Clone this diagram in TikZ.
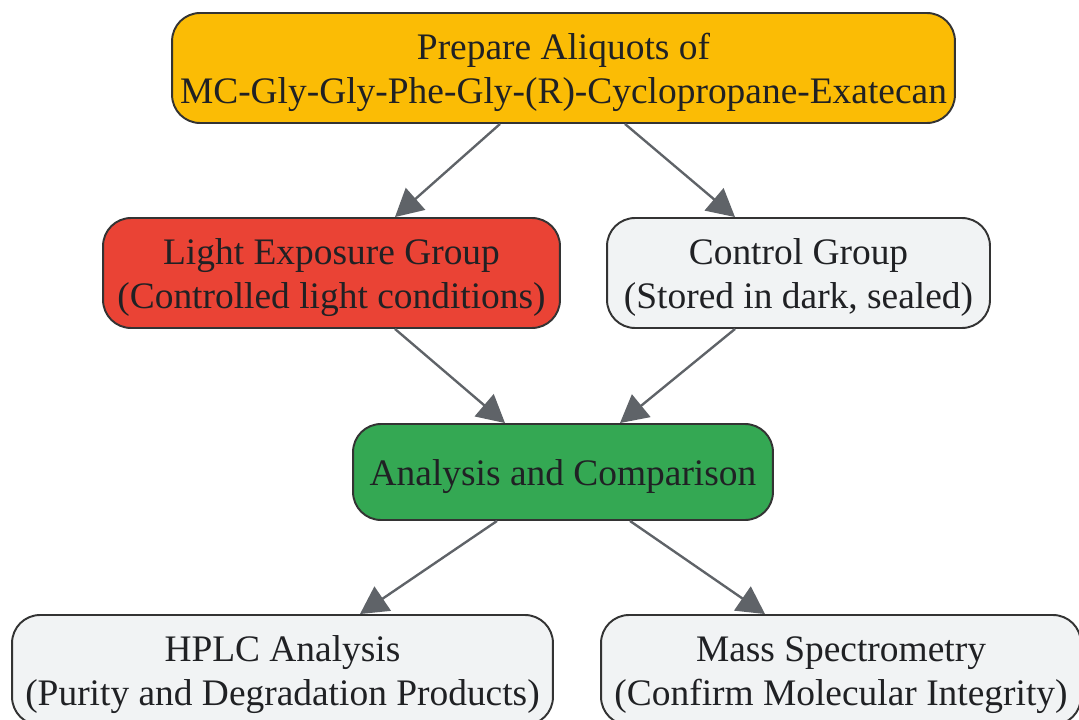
\documentclass[tikz,border=0pt]{standalone}
\usepackage{fontspec}
\setmainfont{Liberation Serif}
\usepackage{xcolor}
\usetikzlibrary{arrows.meta, positioning}

\definecolor{prepfill}{HTML}{FBBC05}
\definecolor{lightfill}{HTML}{EA4335}
\definecolor{compfill}{HTML}{34A853}
\definecolor{greyfill}{HTML}{F1F3F4}
\definecolor{edgecol}{HTML}{5F6368}
\definecolor{boxline}{HTML}{333333}
\definecolor{textcol}{HTML}{202124}

\newcommand{\topstrut}{\rule{0pt}{19.5pt}}

\begin{document}
\begin{tikzpicture}[x=0.02cm, y=-0.02cm,
  box/.style={draw=boxline, line width=1.1pt, rounded corners=0.56cm,
    align=center, inner sep=0pt, text=textcol,
    font=\fontsize{21.3}{25}\selectfont},
  flow/.style={draw=edgecol, line width=1.35pt,
    -{Triangle[length=0.55cm, width=0.58cm]}}]

\useasboundingbox (0,0) rectangle (1079,720);

% Sample preparation
\node[box, fill=prepfill, minimum width=15.66cm, minimum height=2.2cm] (prep) at (563.5,68)
  {\topstrut Prepare Aliquots of\\MC-Gly-Gly-Phe-Gly-(R)-Cyclopropane-Exatecan};

% Exposure groups
\node[box, fill=lightfill, minimum width=9.14cm, minimum height=2.2cm] (light) at (331.5,273)
  {\topstrut Light Exposure Group\\(Controlled light conditions)};
\node[box, fill=greyfill, minimum width=7.66cm, minimum height=2.2cm] (ctrl) at (798.5,273)
  {\topstrut Control Group\\(Stored in dark, sealed)};

% Analysis
\node[box, fill=compfill, minimum width=8.4cm, minimum height=1.92cm] (comp) at (563,472)
  {\topstrut Analysis and Comparison};

% Methods
\node[box, fill=greyfill, minimum width=10.82cm, minimum height=2.2cm] (hplc) at (282.5,670)
  {\topstrut HPLC Analysis\\(Purity and Degradation Products)};
\node[box, fill=greyfill, minimum width=9.6cm, minimum height=2.2cm] (mass) at (841,670)
  {\topstrut Mass Spectrometry\\(Confirm Molecular Integrity)};

% Connectors
\draw[flow] ([xshift=-1.27cm]prep.south) -- ([xshift=1.27cm]light.north);
\draw[flow] ([xshift=1.23cm]prep.south) -- ([xshift=-1.27cm]ctrl.north);
\draw[flow] ([xshift=1.27cm]light.south) -- ([xshift=-1.16cm]comp.north);
\draw[flow] ([xshift=-1.27cm]ctrl.south) -- ([xshift=1.14cm]comp.north);
\draw[flow] ([xshift=-1.32cm]comp.south) -- ([xshift=1.55cm]hplc.north);
\draw[flow] ([xshift=1.34cm]comp.south) -- ([xshift=-1.52cm]mass.north);

\end{tikzpicture}
\end{document}
